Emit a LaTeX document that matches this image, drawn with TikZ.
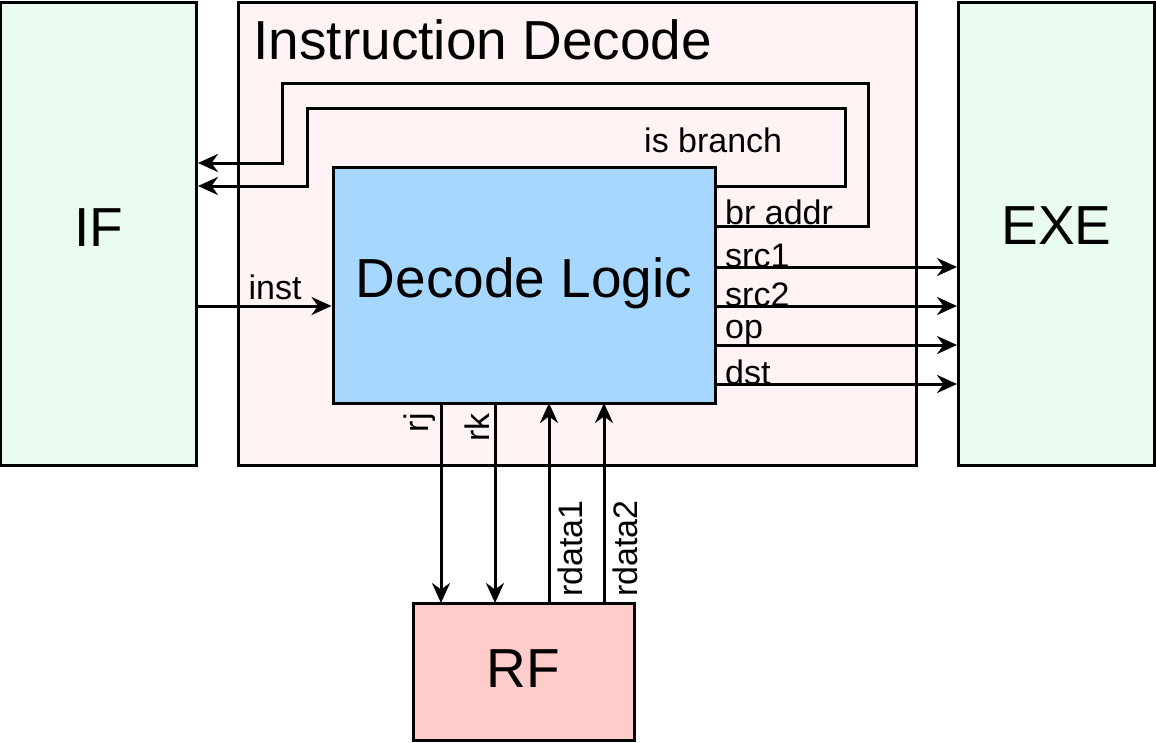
\documentclass[tikz,border=0pt]{standalone}
\usepackage{fontspec}
\setmainfont{Liberation Sans}
\usepackage{tikz}
\usetikzlibrary{arrows.meta}
\usetikzlibrary{positioning}

\definecolor{stagegreen}{RGB}{233,251,238}
\definecolor{idpink}{RGB}{255,243,243}
\definecolor{logicblue}{RGB}{166,216,255}
\definecolor{rfred}{RGB}{255,204,204}

\tikzset{
    stage/.style={draw, line width=3pt, inner sep=0pt},
    big/.style={font=\fontsize{55}{55}\selectfont},
    sig/.style={font=\fontsize{34}{34}\selectfont, inner sep=1pt},
    wire/.style={line width=3pt, -{Stealth[length=20pt, width=18pt]}},
}

\begin{document}
\begin{tikzpicture}[x=1pt, y=-1pt]
        \useasboundingbox (0,0) rectangle (1156,742);

        % Stages
        \node[stage, fill=stagegreen, minimum width=196pt, minimum height=463pt] (if) at (98.5,233.5) {};
        \node[big] at (98.5,228) {IF};
        \node[stage, fill=idpink, minimum width=678pt, minimum height=463pt] (id) at (577.5,233.5) {};
        \node[big, anchor=west] (title) at (250,40) {Instruction Decode};
        \node[stage, fill=stagegreen, minimum width=196pt, minimum height=463pt] (exe) at (1056.5,233.5) {};
        \node[big] at (1056.5,226) {EXE};

        % Decode logic and register file
        \node[stage, fill=logicblue, minimum width=382pt, minimum height=236pt] (dec) at (524,285) {};
        \node[big] at (524,283) {Decode Logic};
        \node[stage, fill=rfred, minimum width=221pt, minimum height=137pt] (rf) at (523.5,671.5) {};
        \node[big] at (523.5,669) {RF};

        % Branch feedback
        \draw[wire] (dec.east |- 0,226) -- (868,226) -- (868,83) -- (282,83) -- (282,163) -- (if.east |- 0,163);
        \draw[wire] (dec.east |- 0,186) -- (845,186) -- (845,108) -- (307,108) -- (307,186) -- (if.east |- 0,186);
        \node[sig, anchor=west] (isbr) at (643,140) {is branch};
        \node[sig, anchor=south west] (braddr) at (724,226) {br addr};

        % To EXE
        \foreach \y/\name in {267/src1, 306/src2, 345/op, 384/dst} {
            \draw[wire] (dec.east |- 0,\y) -- (exe.west |- 0,\y);
            \node[sig, anchor=south west] at (724,\y+2) {\name};
        }

        % Instruction
        \draw[wire] (if.east |- 0,306) -- (dec.west |- 0,306);
        \node[sig, anchor=south] (inst) at (275,301) {inst};

        % Register file ports
        \draw[wire] (441,403) -- (441,603);
        \draw[wire] (495,403) -- (495,603);
        \draw[wire] (549,603) -- (549,403);
        \draw[wire] (604,603) -- (604,403);
        \node[sig, rotate=90, anchor=south east] (rj) at (437,412) {rj};
        \node[sig, rotate=90, anchor=south east] (rk) at (491,412) {rk};
        \node[sig, rotate=90, anchor=north west] (rd1) at (557,598) {rdata1};
        \node[sig, rotate=90, anchor=north west] (rd2) at (612,598) {rdata2};
\end{tikzpicture}
\end{document}
